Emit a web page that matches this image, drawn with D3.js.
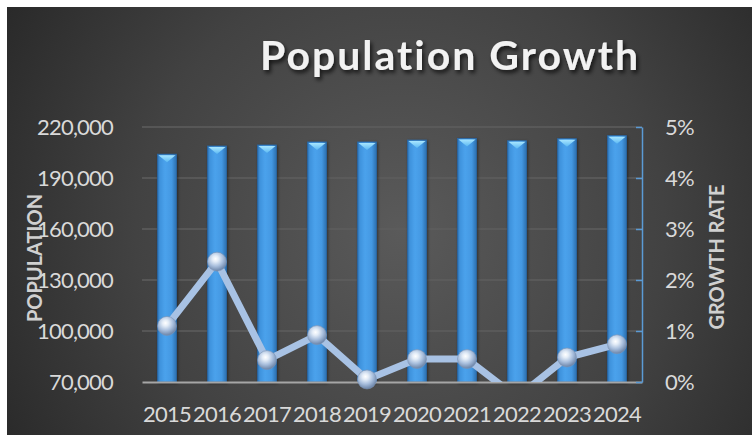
<!DOCTYPE html>
<html>
<head>
<meta charset="utf-8">
<script src="https://cdn.jsdelivr.net/npm/d3@7"></script>
<style>
  html, body { margin: 0; padding: 0; background: #ffffff; }
  svg { display: block; }
  text { font-family: Lato, "Open Sans", sans-serif; }
</style>
</head>
<body>
<script>
const years = ["2015","2016","2017","2018","2019","2020","2021","2022","2023","2024"];
const population = [204000, 208800, 209400, 211200, 211200, 212300, 213300, 211900, 213100, 214900];
const growthRate = [0.011, 0.0236, 0.0043, 0.0092, 0.0005, 0.0045, 0.0045, -0.003, 0.0048, 0.0074];
const popTicks = [70000, 100000, 130000, 160000, 190000, 220000];
const rateTicks = [0, 0.01, 0.02, 0.03, 0.04, 0.05];
const chartTitle = "Population Growth";
const leftTitle = "POPULATION";
const rightTitle = "GROWTH RATE";

const W = 752, H = 435;
const plot = {left: 142, right: 642, top: 127, bottom: 382};

const svg = d3.select("body").append("svg").attr("width", W).attr("height", H);
const defs = svg.append("defs");

const bg = defs.append("radialGradient").attr("id","bg")
  .attr("gradientUnits","userSpaceOnUse").attr("cx", 400).attr("cy", 230).attr("r", 480);
bg.append("stop").attr("offset","0%").attr("stop-color","#5a5a5a");
bg.append("stop").attr("offset","55%").attr("stop-color","#424242");
bg.append("stop").attr("offset","100%").attr("stop-color","#262626");

const barG = defs.append("linearGradient").attr("id","barG").attr("x1","0%").attr("x2","100%").attr("y1","0%").attr("y2","0%");
[["0%","#2a6eb0"],["12%","#3f92dc"],["40%","#4ba2ec"],["75%","#4398e2"],["100%","#2b6fae"]]
  .forEach(s => barG.append("stop").attr("offset", s[0]).attr("stop-color", s[1]));

const capG = defs.append("linearGradient").attr("id","capG").attr("x1","0%").attr("x2","0%").attr("y1","0%").attr("y2","100%");
capG.append("stop").attr("offset","0%").attr("stop-color","#a8e6ff");
capG.append("stop").attr("offset","100%").attr("stop-color","#5bb8f2");

const ball = defs.append("radialGradient").attr("id","ball").attr("cx","42%").attr("cy","35%").attr("r","65%");
[["0%","#ffffff"],["25%","#e3ecf7"],["60%","#a9bfdd"],["100%","#6b84a8"]]
  .forEach(s => ball.append("stop").attr("offset", s[0]).attr("stop-color", s[1]));

const shadow = defs.append("filter").attr("id","tshadow").attr("x","-10%").attr("y","-20%").attr("width","130%").attr("height","160%");
shadow.append("feDropShadow").attr("dx",2).attr("dy",3).attr("stdDeviation",2).attr("flood-color","#000").attr("flood-opacity",0.7);

const barShadow = defs.append("filter").attr("id","bshadow").attr("x","-30%").attr("y","-5%").attr("width","160%").attr("height","110%");
barShadow.append("feDropShadow").attr("dx",1).attr("dy",1).attr("stdDeviation",1.5).attr("flood-color","#000").attr("flood-opacity",0.45);

defs.append("clipPath").attr("id","plotClip").append("rect")
  .attr("x", plot.left).attr("y", plot.top - 20).attr("width", plot.right - plot.left).attr("height", plot.bottom - plot.top + 20);

svg.append("rect").attr("x",7).attr("y",7).attr("width",W-7).attr("height",H-7).attr("fill","url(#bg)");

const x = d3.scaleBand().domain(years).range([plot.left, plot.right]).paddingInner(0.62).paddingOuter(0.31);
const yL = d3.scaleLinear().domain([popTicks[0], popTicks[popTicks.length-1]]).range([plot.bottom, plot.top]);
const yR = d3.scaleLinear().domain([rateTicks[0], rateTicks[rateTicks.length-1]]).range([plot.bottom, plot.top]);

// gridlines
svg.append("g").selectAll("line").data(popTicks.slice(1)).join("line")
  .attr("x1", plot.left).attr("x2", plot.right)
  .attr("y1", d => yL(d)).attr("y2", d => yL(d))
  .attr("stroke", "#5e5e5e").attr("stroke-width", 1.5);

// bars
const bars = svg.append("g").attr("filter","url(#bshadow)");
bars.selectAll("rect").data(years).join("rect")
  .attr("x", d => x(d)).attr("width", x.bandwidth())
  .attr("y", (d,i) => yL(population[i]))
  .attr("height", (d,i) => plot.bottom - yL(population[i]))
  .attr("fill", "url(#barG)").attr("stroke", "#2a68a6").attr("stroke-width", 0.8);
svg.append("g").selectAll("path").data(years).join("path")
  .attr("d", (d,i) => {
    const x0 = x(d) + 1, x1 = x(d) + x.bandwidth() - 1, y0 = yL(population[i]) + 1;
    return `M${x0},${y0}L${x1},${y0}L${(x0+x1)/2},${y0+7}Z`;
  })
  .attr("fill", "url(#capG)");

// x axis
const xAxis = svg.append("g").attr("transform", `translate(0,${plot.bottom})`)
  .call(d3.axisBottom(x).tickSize(0).tickPadding(24));
xAxis.select(".domain").attr("stroke", "#a6a6a6").attr("stroke-width", 2);
xAxis.selectAll("text").attr("fill", "#d9d9d9").style("font-size", "22px").style("letter-spacing", "-0.8px").attr("font-family", null);

// left axis
const lAxis = svg.append("g").attr("transform", `translate(${plot.left},0)`)
  .call(d3.axisLeft(yL).tickValues(popTicks).tickFormat(d3.format(",")).tickSize(0).tickPadding(29));
lAxis.select(".domain").remove();
lAxis.selectAll("text").attr("fill", "#d9d9d9").style("font-size", "22px").style("letter-spacing", "-0.8px").attr("font-family", null);

// right axis
const rAxis = svg.append("g").attr("transform", `translate(${plot.right},0)`)
  .call(d3.axisRight(yR).tickValues(rateTicks).tickFormat(d3.format(".0%")).tickSize(-6).tickSizeOuter(0).tickPadding(23));
rAxis.select(".domain").attr("stroke", "#5b9bd5").attr("stroke-width", 1.5);
rAxis.selectAll(".tick line").attr("stroke", "#5b9bd5").attr("stroke-width", 1.5);
rAxis.selectAll("text").attr("fill", "#d9d9d9").style("font-size", "22px").style("letter-spacing", "-0.8px").attr("font-family", null);

// growth line
const line = d3.line().x((d,i) => x(years[i]) + x.bandwidth()/2).y(d => yR(d));
svg.append("path").datum(growthRate)
  .attr("clip-path", "url(#plotClip)")
  .attr("d", line).attr("fill", "none")
  .attr("stroke", "#a8c2e4").attr("stroke-width", 7).attr("stroke-linejoin", "miter");

const inRange = growthRate.map((v,i) => ({v, i})).filter(d => d.v >= rateTicks[0]);
svg.append("g").selectAll("circle").data(inRange).join("circle")
  .attr("cx", d => x(years[d.i]) + x.bandwidth()/2)
  .attr("cy", d => yR(d.v))
  .attr("r", 9.5)
  .attr("fill", "url(#ball)").attr("stroke", "#7d93b3").attr("stroke-width", 0.6);

// titles
svg.append("text").text(chartTitle)
  .attr("x", 450).attr("y", 70).attr("text-anchor", "middle")
  .attr("fill", "#f2f2f2").style("font-size", "41px").style("font-weight", "bold").style("letter-spacing", "2px")
  .attr("filter", "url(#tshadow)");

svg.append("text").text(leftTitle)
  .attr("transform", "translate(42,258) rotate(-90)").attr("text-anchor", "middle")
  .attr("fill", "#d0d0d0").style("font-size", "20px").style("font-weight", "bold");

svg.append("text").text(rightTitle)
  .attr("transform", "translate(724,257) rotate(-90)").attr("text-anchor", "middle")
  .attr("fill", "#d0d0d0").style("font-size", "20px").style("font-weight", "bold");
</script>
</body>
</html>
